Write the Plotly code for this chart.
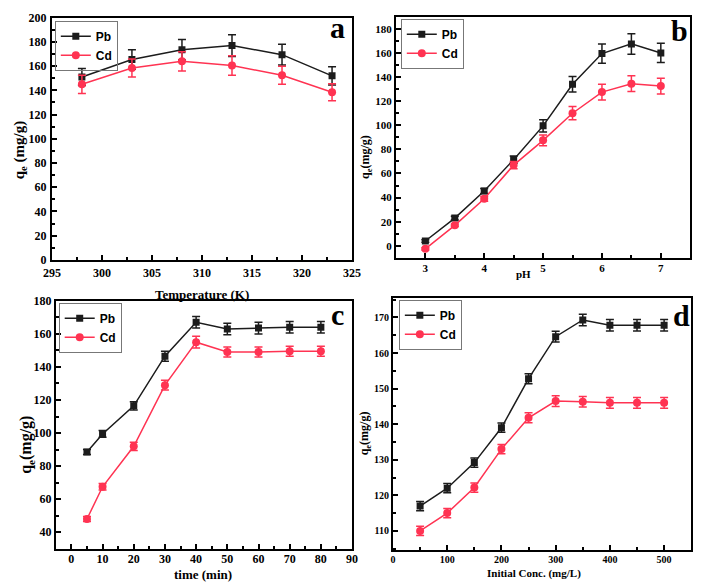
import plotly.graph_objects as go

W, H = 709, 588

# ---------------- data ----------------
temp_K = [298, 303, 308, 313, 318, 323]
a_pb = [151, 165.5, 173.5, 177, 169.5, 152]
a_pb_err = [7, 8, 8.5, 9, 8.5, 7.5]
a_cd = [145, 158.5, 164, 160.5, 152.5, 138.5]
a_cd_err = [7.5, 7.5, 8, 8, 7.5, 7]

ph = [3, 3.5, 4, 4.5, 5, 5.5, 6, 6.5, 7]
b_pb = [4, 23, 45.5, 71.5, 99.5, 134, 159.5, 167.5, 160]
b_pb_err = [1, 1.5, 2, 3, 5, 6.5, 8, 8.5, 8]
b_cd = [-2.5, 17, 39, 67, 87.5, 110, 127.5, 134.5, 132.5]
b_cd_err = [1, 1, 2, 3, 4.5, 5.5, 6.5, 6.5, 6.5]

time_min = [5, 10, 20, 30, 40, 50, 60, 70, 80]
c_pb = [88.5, 99.5, 116.5, 146.5, 167, 163, 163.5, 164, 164]
c_pb_err = [1.5, 2, 2.5, 3, 3.5, 3.5, 3.5, 3.5, 3.5]
c_cd = [48, 67.5, 92, 129, 155, 149, 149, 149.5, 149.5]
c_cd_err = [1.5, 2, 2.5, 3, 3.5, 3, 3, 3, 3]

conc = [50, 100, 150, 200, 250, 300, 350, 400, 450, 500]
d_pb = [117, 122, 129.2, 139, 152.8, 164.6, 169.3, 167.8, 167.8, 167.8]
d_pb_err = [1.3, 1.3, 1.3, 1.3, 1.4, 1.5, 1.6, 1.6, 1.6, 1.6]
d_cd = [110, 115, 122.2, 133, 141.8, 146.5, 146.3, 146, 146, 146]
d_cd_err = [1.3, 1.3, 1.3, 1.3, 1.4, 1.5, 1.5, 1.5, 1.5, 1.5]

series_names = ["Pb", "Cd"]
panel_letters = ["a", "b", "c", "d"]

PB_COLOR = "#1c1c1c"
CD_COLOR = "#ff3352"
SERIF = "Liberation Serif"
SANS = "Liberation Sans"


def px_x(p):
    return p / W


def px_y(p):
    return 1 - p / H


fig = go.Figure()

panels = [
    (temp_K, a_pb, a_pb_err, a_cd, a_cd_err, "", "legend"),
    (ph, b_pb, b_pb_err, b_cd, b_cd_err, "2", "legend2"),
    (time_min, c_pb, c_pb_err, c_cd, c_cd_err, "3", "legend3"),
    (conc, d_pb, d_pb_err, d_cd, d_cd_err, "4", "legend4"),
]

for x, pb, pbe, cd, cde, sfx, lg in panels:
    fig.add_trace(go.Scatter(
        x=x, y=pb, name=series_names[0], mode="lines+markers",
        line=dict(color=PB_COLOR, width=1.5),
        marker=dict(symbol="square", size=7, color=PB_COLOR),
        error_y=dict(type="data", array=pbe, color=PB_COLOR, thickness=1.5, width=4),
        xaxis="x" + sfx, yaxis="y" + sfx, legend=lg,
    ))
    fig.add_trace(go.Scatter(
        x=x, y=cd, name=series_names[1], mode="lines+markers",
        line=dict(color=CD_COLOR, width=1.5),
        marker=dict(symbol="circle", size=8, color=CD_COLOR),
        error_y=dict(type="data", array=cde, color=CD_COLOR, thickness=1.5, width=4),
        xaxis="x" + sfx, yaxis="y" + sfx, legend=lg,
    ))


def axis(domain, rng, dtick, minor_dtick, tick0, size, anchor, standoff=0):
    return dict(
        domain=domain, range=rng, dtick=dtick, tick0=tick0,
        showline=True, mirror=True, linecolor="black", linewidth=2,
        ticks="inside", ticklen=5, tickwidth=1.5, tickcolor="black",
        minor=dict(ticks="inside", ticklen=3, tickwidth=1.5, dtick=minor_dtick,
                   tick0=tick0, tickcolor="black"),
        showgrid=False, zeroline=False, anchor=anchor,
        ticklabelstandoff=standoff,
        tickfont=dict(family=SERIF, size=size, color="black", weight="bold"),
    )


dom = {
    "a": ([px_x(44), px_x(352)], [px_y(259), px_y(11)]),
    "b": ([px_x(397), px_x(699)], [px_y(257), px_y(10)]),
    "c": ([px_x(48), px_x(352)], [px_y(555), px_y(301)]),
    "d": ([px_x(394), px_x(700)], [px_y(556), px_y(298)]),
}

fig.update_layout(
    width=W, height=H, margin=dict(l=0, r=0, t=0, b=0),
    paper_bgcolor="white", plot_bgcolor="white", showlegend=True,
    xaxis=axis(dom["a"][0], [295, 325], 5, 2.5, 295, 12, "y", 1),
    yaxis=axis(dom["a"][1], [0, 200], 20, 10, 0, 12, "x", 1),
    xaxis2=axis(dom["b"][0], [2.5, 7.5], 1, 0.5, 3, 11, "y2", -1),
    yaxis2=axis(dom["b"][1], [-10, 190], 20, 10, 0, 11, "x2"),
    xaxis3=axis(dom["c"][0], [-5, 90], 10, 5, 0, 12, "y3", -2),
    yaxis3=axis(dom["c"][1], [30, 180], 20, 10, 0, 12, "x3"),
    xaxis4=axis(dom["d"][0], [0, 550], 100, 50, 0, 10, "y4", -1),
    yaxis4=axis(dom["d"][1], [104.7, 175.5], 10, 5, 0, 10, "x4"),
)


def legend(xp, yp):
    return dict(
        x=px_x(xp), y=px_y(yp), xanchor="left", yanchor="top",
        bgcolor="rgba(255,255,255,0)", bordercolor="#777777", borderwidth=1,
        font=dict(family=SANS, size=12, color="black", weight="bold"),
        itemwidth=30, tracegroupgap=0,
    )


fig.update_layout(
    legend=legend(47, 14),
    legend2=legend(402, 12),
    legend3=legend(51, 303),
    legend4=legend(400, 300),
)

annotations = []


def text(t, xp, yp, size, angle=0, family=SERIF):
    annotations.append(dict(
        text=t, x=px_x(xp), y=px_y(yp), xref="paper", yref="paper",
        showarrow=False, textangle=angle, xanchor="center", yanchor="middle",
        font=dict(family=family, size=size, color="black", weight="bold"),
    ))


# x titles
text("Temperature (K)", 198, 294, 13)
text("pH", 528, 273, 11)
text("time (min)", 199, 581, 13)
text("Initial Conc. (mg/L)", 539, 580, 11)
# y titles
text("q<sub>e</sub> (mg/g)", 11, 147, 15, -90)
text("q<sub>e</sub>(mg/g)", 367, 154, 12, -90)
text("q<sub>e</sub>(mg/g)", 18, 449, 16, -90)
text("q<sub>e</sub>(mg/g)", 365, 437, 12, -90)
# panel letters
for letter, (xp, yp) in zip(panel_letters, [(337, 21), (688, 24), (337, 315), (690, 316)]):
    text(letter, xp, yp, 30)

fig.update_layout(annotations=annotations)

fig.write_html(
    "out.html",
    config={"displayModeBar": False},
    post_script="document.body.style.margin='0';document.body.style.overflow='hidden';",
)
